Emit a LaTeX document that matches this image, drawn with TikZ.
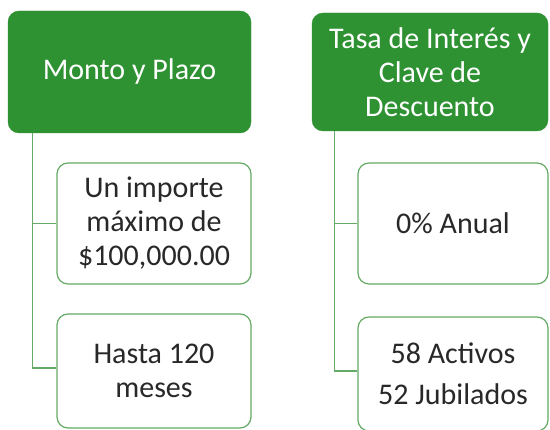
\documentclass[tikz,border=0pt]{standalone}
\usepackage{fontspec}
\setmainfont{Carlito}
\definecolor{hdrgreen}{RGB}{46,145,50}
\definecolor{boxgreen}{RGB}{100,170,100}
\definecolor{txtgray}{RGB}{40,40,40}
\tikzset{
  hdr/.style={draw=hdrgreen, fill=hdrgreen, rounded corners=11pt, text=white, align=center,
    inner sep=0pt, font=\fontsize{30}{34}\selectfont},
  child/.style={draw=boxgreen, line width=1.2pt, fill=white, rounded corners=11pt, text=txtgray, align=center,
    inner sep=0pt, font=\fontsize{30}{34}\selectfont},
  link/.style={draw=boxgreen, line width=1.2pt}
}
\begin{document}
\begin{tikzpicture}[x=1pt,y=1pt]
\useasboundingbox (0,0) rectangle (550,430);
% headers
\node[hdr, minimum width=243pt, minimum height=122pt] (h1) at (129.5,358) {Monto y Plazo};
\node[hdr, minimum width=236pt, minimum height=118pt] (h2) at (430,358) {Tasa de Interés y\\Clave de\\Descuento};
% children left
\node[child, minimum width=194pt, minimum height=121pt] (c11) at (154,206.5) {Un importe\\máximo de\\\$100,000.00};
\node[child, minimum width=194pt, minimum height=114pt] (c12) at (154,59) {Hasta 120\\meses};
% children right
\node[child, minimum width=190pt, minimum height=121pt] (c21) at (453,206.5) {0\% Anual};
\node[child, minimum width=190pt, minimum height=114pt] (c22) at (453,56) {58 Activos\\[7pt]52 Jubilados};
% connectors
\coordinate (s1) at ([xshift=25pt]h1.south west);
\coordinate (s2) at ([xshift=23pt]h2.south west);
\draw[link] (s1) |- (c11.west);
\draw[link] (s1) |- ([yshift=3pt]c12.west);
\draw[link] (s2) |- (c21.west);
\draw[link] (s2) |- ([yshift=3pt]c22.west);
\end{tikzpicture}
\end{document}
